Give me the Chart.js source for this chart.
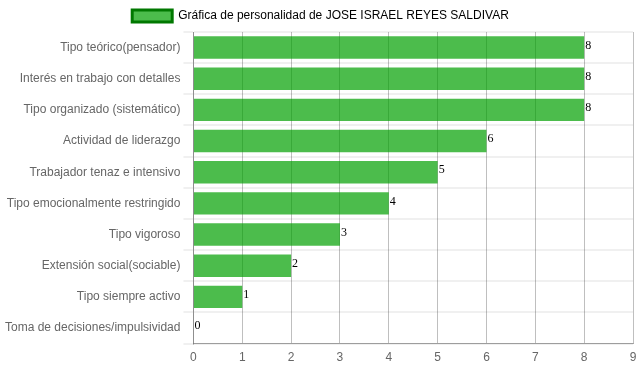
<!DOCTYPE html>
<html>
<head>
<meta charset="utf-8">
<script src="https://cdn.jsdelivr.net/npm/chart.js@4"></script>
<style>
  body { margin: 0; background: #fff; }
  #wrap { width: 639px; height: 372px; }
</style>
</head>
<body>
<div id="wrap"><canvas id="myChart" width="639" height="372"></canvas></div>
<script>
var etiquetas = ['Tipo teórico(pensador)', 'Interés en trabajo con detalles', 'Tipo organizado (sistemático)',
    'Actividad de liderazgo', 'Trabajador tenaz e intensivo', 'Tipo emocionalmente restringido',
    'Tipo vigoroso', 'Extensión social(sociable)', 'Tipo siempre activo', 'Toma de decisiones/impulsividad'];
var puntajes = [8, 8, 8, 6, 5, 4, 3, 2, 1, 0];
var tituloSerie = 'Gráfica de personalidad de JOSE ISRAEL REYES SALDIVAR';

Chart.defaults.font.family = '"Liberation Sans", Arial, sans-serif';
Chart.defaults.font.size = 12;
Chart.defaults.color = '#666';

/*numero al final de cada barra*/
var etiquetaValor = {
    id: 'etiquetaValor',
    afterDatasetsDraw: function(chart) {
        var c = chart.ctx;
        var meta = chart.getDatasetMeta(0);
        c.save();
        c.font = '12px "Liberation Serif", "Times New Roman", serif';
        c.fillStyle = '#000';
        c.textAlign = 'left';
        c.textBaseline = 'bottom';
        meta.data.forEach(function(bar, i) {
            c.fillText(puntajes[i], bar.x + 1, bar.y + 4);
        });
        c.restore();
    }
};

var ctx = document.getElementById('myChart').getContext('2d');
var myChart = new Chart(ctx, {
    type: 'bar',
    data: {
        labels: etiquetas,
        datasets: [{
            label: tituloSerie,
            data: puntajes,
            backgroundColor: 'rgba(0, 160, 0, 0.7)',
            borderColor: 'rgba(0, 120, 0, 1)',
            borderWidth: 0
        }]
    },
    options: {
        responsive: false,
        animation: false,
        indexAxis: 'y',
        layout: { padding: { left: 2, right: 0, bottom: 0 } },
        plugins: {
            legend: {
                labels: {
                    boxWidth: 40,
                    boxHeight: 12,
                    generateLabels: function(chart) {
                        return [{
                            text: tituloSerie,
                            fillStyle: 'rgba(0, 160, 0, 0.7)',
                            strokeStyle: 'rgba(0, 120, 0, 1)',
                            lineWidth: 3,
                            datasetIndex: 0
                        }];
                    }
                }
            },
            tooltip: { enabled: false }
        },
        scales: {
            x: {
                min: 0,
                max: 9,
                ticks: { stepSize: 1, padding: 7 },
                grid: { color: 'rgba(0, 0, 0, 0.25)', drawTicks: false },
                border: { color: 'rgba(0, 0, 0, 0.35)' },
                afterFit: function(scale) { scale.paddingRight = 6; }
            },
            y: {
                grid: { color: 'rgba(0, 0, 0, 0.06)', lineWidth: 2, tickLength: 10 },
                border: { color: 'rgba(0, 0, 0, 0.25)' }
            }
        }
    },
    plugins: [etiquetaValor]
});
</script>
</body>
</html>
